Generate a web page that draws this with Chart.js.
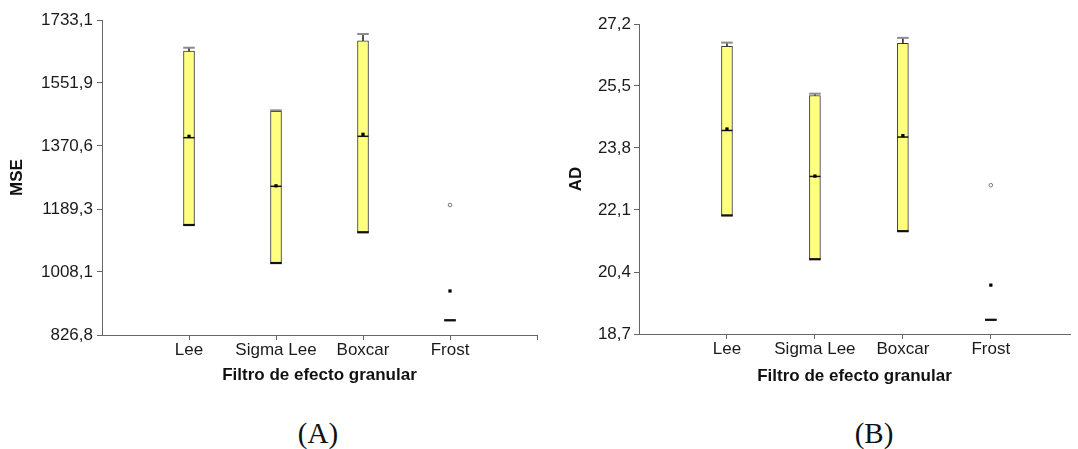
<!DOCTYPE html>
<html>
<head>
<meta charset="utf-8">
<script src="https://cdn.jsdelivr.net/npm/chart.js@4.4.1/dist/chart.umd.min.js"></script>
<style>
  html, body { margin:0; padding:0; background:#fff; width:1078px; height:449px; overflow:hidden; }
  canvas { position:absolute; top:0; }
  .lab { position:absolute; font-family:"Liberation Serif","Times New Roman",serif; font-size:29px; color:#111; transform:translate(-50%,-50%); white-space:nowrap; }
</style>
</head>
<body>
<canvas id="cA" width="545" height="400" style="left:0px"></canvas>
<canvas id="cB" width="533" height="400" style="left:545px"></canvas>
<div class="lab" style="left:318px; top:433px">(A)</div>
<div class="lab" style="left:874px; top:433px">(B)</div>
<script>
// ---- data ----
const categories = ['Lee', 'Sigma Lee', 'Boxcar', 'Frost'];

// MSE (A)
const mseQ1      = [1143.3, 1033.9, 1122.3, 869.1];
const mseQ3      = [1643.9, 1470.4, 1673.5, 869.1];
const mseMedian  = [1394.5, 1254.6, 1398.5, 869.1];
const mseMean    = [1398.5, 1256.0, 1404.2, 953.4];
const mseMax     = [1653.4, 1473.2, 1692.8, null];
const mseOutlier = [null, null, null, 1200.8];
const mseTicks   = [826.8, 1008.1, 1189.3, 1370.6, 1551.9, 1733.1];

// AD (B)
const adQ1      = [21.95, 20.75, 21.52, 19.09];
const adQ3      = [26.59, 25.24, 26.67, 19.09];
const adMedian  = [24.28, 23.02, 24.10, 19.09];
const adMean    = [24.32, 23.03, 24.14, 20.04];
const adMax     = [26.69, 25.29, 26.82, null];
const adOutlier = [null, null, null, 22.78];
const adTicks   = [18.7, 20.4, 22.1, 23.8, 25.5, 27.2];

// ---- helpers ----
const FONT = '"Liberation Sans", Arial, sans-serif';
const pts = arr => arr.map((v, i) => ({x: i + 1, y: v})).filter(p => p.y !== null);
const fmt = v => v.toFixed(1).replace('.', ',');

function makeChart(id, o) {
  const boxes = o.q1.map((v, i) => ({x: i + 1, y: [v, o.q3[i]]})).filter(p => p.y[1] > p.y[0]);
  const whisk = o.max.map((v, i) => v === null ? null : ({x: i + 1, y: [o.q3[i], v]})).filter(p => p);
  const xTickVals = categories.map((c, i) => i + 1).concat([o.xmax]);
  const chart = new Chart(document.getElementById(id), {
    type: 'bar',
    data: {
      datasets: [
        { type: 'line', order: 1, data: pts(o.mean), showLine: false, pointStyle: 'rect',
          pointRadius: 2.3, pointBackgroundColor: '#000', pointBorderColor: '#000', pointBorderWidth: 0 },
        { type: 'line', order: 2, data: pts(o.outlier), showLine: false, pointStyle: 'circle',
          pointRadius: 1.8, pointBackgroundColor: '#fff', pointBorderColor: '#777', pointBorderWidth: 1 },
        { type: 'line', order: 3, data: pts(o.median), showLine: false, pointStyle: 'line',
          pointRadius: 5.5, pointBorderColor: '#111', pointBorderWidth: 1.5 },
        { type: 'line', order: 4, data: pts(o.q1), showLine: false, pointStyle: 'line',
          pointRadius: 5.8, pointBorderColor: '#111', pointBorderWidth: 2.2 },
        { type: 'line', order: 5, data: pts(o.max), showLine: false, pointStyle: 'line',
          pointRadius: 5.8, pointBorderColor: '#8c8c8c', pointBorderWidth: 2 },
        { type: 'bar', order: 6, data: whisk, grouped: false, barThickness: 1,
          backgroundColor: '#333', borderWidth: 0 },
        { type: 'bar', order: 7, data: boxes, grouped: false, barThickness: 11,
          backgroundColor: '#ffff80', borderColor: '#3a3a3a', borderWidth: 1, borderSkipped: false }
      ]
    },
    options: {
      responsive: false, animation: false, events: [],
      layout: { padding: Object.assign({}, o.pad) },
      plugins: { legend: { display: false }, tooltip: { enabled: false } },
      scales: {
        x: {
          type: 'linear', min: 0, max: o.xmax, offset: false,
          afterBuildTicks: s => { s.ticks = xTickVals.map(v => ({value: v})); },
          afterFit: s => { s.height = o.xh; },
          ticks: { callback: v => categories[v - 1] || '', font: {family: FONT, size: 17},
                   color: '#1a1a1a', padding: 0, maxRotation: 0, autoSkip: false },
          grid: { offset: false, drawOnChartArea: false, drawTicks: true, tickLength: 5,
                  color: c => (c.tick && c.tick.value === o.xmax && !o.endTick) ? 'rgba(0,0,0,0)' : '#666' },
          border: { display: true, color: '#666', width: 1 },
          title: { display: true, text: 'Filtro de efecto granular', color: '#111',
                   font: {family: FONT, size: 17, weight: 'bold'}, padding: {top: 0, bottom: 0} }
        },
        y: {
          type: 'linear', min: o.yTicks[0], max: o.yTicks[o.yTicks.length - 1],
          afterBuildTicks: s => { s.ticks = o.yTicks.map(v => ({value: v})); },
          afterFit: s => { s.width = o.yw; },
          ticks: { callback: v => fmt(v), font: {family: FONT, size: 17}, color: '#1a1a1a', padding: o.ytp },
          grid: { drawOnChartArea: false, drawTicks: true, tickLength: 5, color: '#666' },
          border: { display: true, color: '#666', width: 1 },
          title: { display: true, text: o.ytitle, color: '#111',
                   font: {family: FONT, size: 17, weight: 'bold'}, padding: {top: o.ytpad, bottom: 0} }
        }
      }
    }
  });
  // nudge the layout so the plot area's right edge lands where the reference has it
  for (let k = 0; k < 3; k++) {
    const d = o.right - chart.chartArea.right;
    if (Math.abs(d) < 0.5) break;
    chart.options.layout.padding.right -= d;
    chart.update('none');
  }
  return chart;
}

makeChart('cA', {
  q1: mseQ1, q3: mseQ3, median: mseMedian, mean: mseMean, max: mseMax, outlier: mseOutlier,
  yTicks: mseTicks, ytitle: 'MSE', xmax: 5, endTick: true, right: 540,
  pad: {top: 20, right: 5, left: 0, bottom: 14}, xh: 51, yw: 102, ytp: 4, ytpad: 7
});
makeChart('cB', {
  q1: adQ1, q3: adQ3, median: adMedian, mean: adMean, max: adMax, outlier: adOutlier,
  yTicks: adTicks, ytitle: 'AD', xmax: 4.9, endTick: false, right: 533,
  pad: {top: 24, right: 0, left: 0, bottom: 13}, xh: 53, yw: 94, ytp: 3, ytpad: 21
});
</script>
</body>
</html>
